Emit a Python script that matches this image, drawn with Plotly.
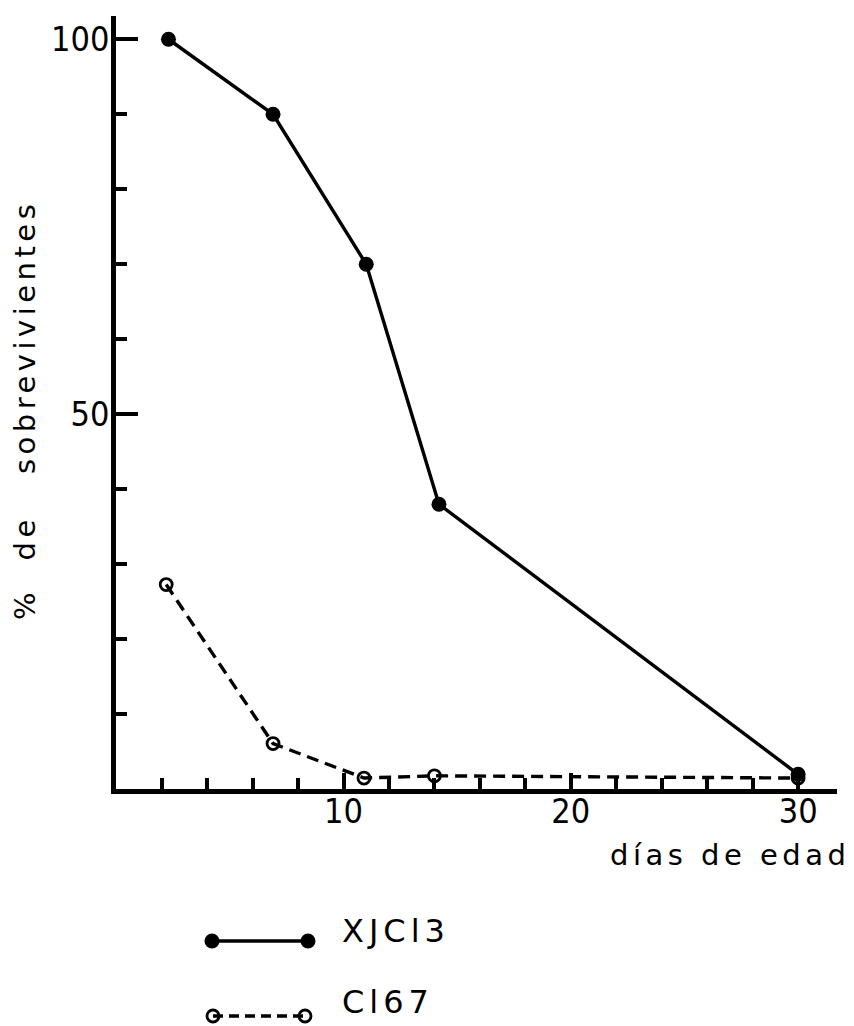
import plotly.graph_objects as go

# data
days_xjcl3 = [2.3, 6.9, 11.0, 14.2, 30.0]
surv_xjcl3 = [100, 90, 70, 38, 2.0]
days_cl67 = [2.2, 6.9, 10.9, 14.0, 30.0]
surv_cl67 = [27.3, 6.1, 1.5, 1.8, 1.5]

x_ticks = [10, 20, 30]
y_ticks = [50, 100]
y_ticklabels = ["50", "100"]
legend_names = ["XJCl3", "Cl67"]

W, H = 854, 1026
NUM_FONT = "Liberation Sans Narrow, DejaVu Sans Condensed, sans-serif"
TXT_FONT = "DejaVu Sans, sans-serif"

fig = go.Figure()

fig.add_trace(go.Scatter(
    x=days_cl67, y=surv_cl67, mode="lines+markers",
    line=dict(color="black", width=3.4, dash="12px,7px"),
    marker=dict(symbol="circle-open", size=12, color="black", line=dict(width=2.8)),
    showlegend=False, xaxis="x", yaxis="y"))
fig.add_trace(go.Scatter(
    x=days_xjcl3, y=surv_xjcl3, mode="lines+markers",
    line=dict(color="black", width=3.4),
    marker=dict(symbol="circle", size=15, color="black"),
    showlegend=False, xaxis="x", yaxis="y"))

# legend keys (drawn on a pixel-scaled overlay axis)
fig.add_trace(go.Scatter(
    x=[212, 308], y=[941, 941], mode="lines+markers",
    line=dict(color="black", width=3.4),
    marker=dict(symbol="circle", size=15, color="black"),
    showlegend=False, xaxis="x2", yaxis="y2", hoverinfo="skip"))
fig.add_trace(go.Scatter(
    x=[213, 305], y=[1016, 1016], mode="lines+markers",
    line=dict(color="black", width=3.4, dash="10px,6px"),
    marker=dict(symbol="circle-open", size=12, color="black", line=dict(width=2.8)),
    showlegend=False, xaxis="x2", yaxis="y2", hoverinfo="skip"))

x0, x1 = 116.2, 837
y_top, y_bot = 16, 789.3

fig.update_layout(
    width=W, height=H, margin=dict(l=0, r=0, t=0, b=0),
    paper_bgcolor="white", plot_bgcolor="rgba(0,0,0,0)",
    xaxis=dict(domain=[x0 / W, x1 / W], range=[0, 31.71], anchor="y",
               showgrid=False, zeroline=False, showline=True, linecolor="black", linewidth=5,
               tickmode="array", tickvals=x_ticks, ticktext=[str(v) for v in x_ticks],
               ticks="inside", ticklen=16, tickwidth=3.5, tickcolor="black",
               minor=dict(tickmode="linear", tick0=0, dtick=2, ticks="inside", ticklen=11,
                          tickwidth=3.5, tickcolor="black", showgrid=False),
               tickfont=dict(family=NUM_FONT, size=34, color="black"),
               ticklabelstandoff=-12),
    yaxis=dict(domain=[1 - y_bot / H, 1 - y_top / H], range=[0, 103.1], anchor="x",
               showgrid=False, zeroline=False, showline=True, linecolor="black", linewidth=5,
               tickmode="array", tickvals=y_ticks, ticktext=y_ticklabels,
               ticks="inside", ticklen=22, tickwidth=3.5, tickcolor="black",
               minor=dict(tickmode="linear", tick0=0, dtick=10, ticks="inside", ticklen=11,
                          tickwidth=3.5, tickcolor="black", showgrid=False),
               tickfont=dict(family=NUM_FONT, size=34, color="black"),
               ticklabelstandoff=-5),
    xaxis2=dict(domain=[0, 1], range=[0, W], visible=False, fixedrange=True, anchor="y2"),
    yaxis2=dict(domain=[0, 1], range=[H, 0], visible=False, fixedrange=True, anchor="x2"),
)

def spaced(txt, px):
    return f'<span style="letter-spacing:{px}px">{txt}</span>'

NB = "\u00a0"
fig.add_annotation(
    text=spaced(f"%{NB}{NB}de{NB}{NB}{NB}sobrevivientes", 4.5),
    xref="paper", yref="paper", x=25 / W, y=1 - 410 / H, textangle=-90,
    showarrow=False, xanchor="center", yanchor="middle",
    font=dict(family=TXT_FONT, size=29, color="black"))
fig.add_annotation(
    text=spaced("días de edad", 4.5),
    xref="paper", yref="paper", x=852 / W, y=1 - 855 / H,
    showarrow=False, xanchor="right", yanchor="middle",
    font=dict(family=TXT_FONT, size=29, color="black"))
fig.add_annotation(
    text=spaced(legend_names[0], 5),
    xref="paper", yref="paper", x=340 / W, y=1 - 931 / H,
    showarrow=False, xanchor="left", yanchor="middle",
    font=dict(family=TXT_FONT, size=32, color="black"))
fig.add_annotation(
    text=spaced(legend_names[1], 5),
    xref="paper", yref="paper", x=340 / W, y=1 - 1002 / H,
    showarrow=False, xanchor="left", yanchor="middle",
    font=dict(family=TXT_FONT, size=32, color="black"))

fig.write_html("out.html")
